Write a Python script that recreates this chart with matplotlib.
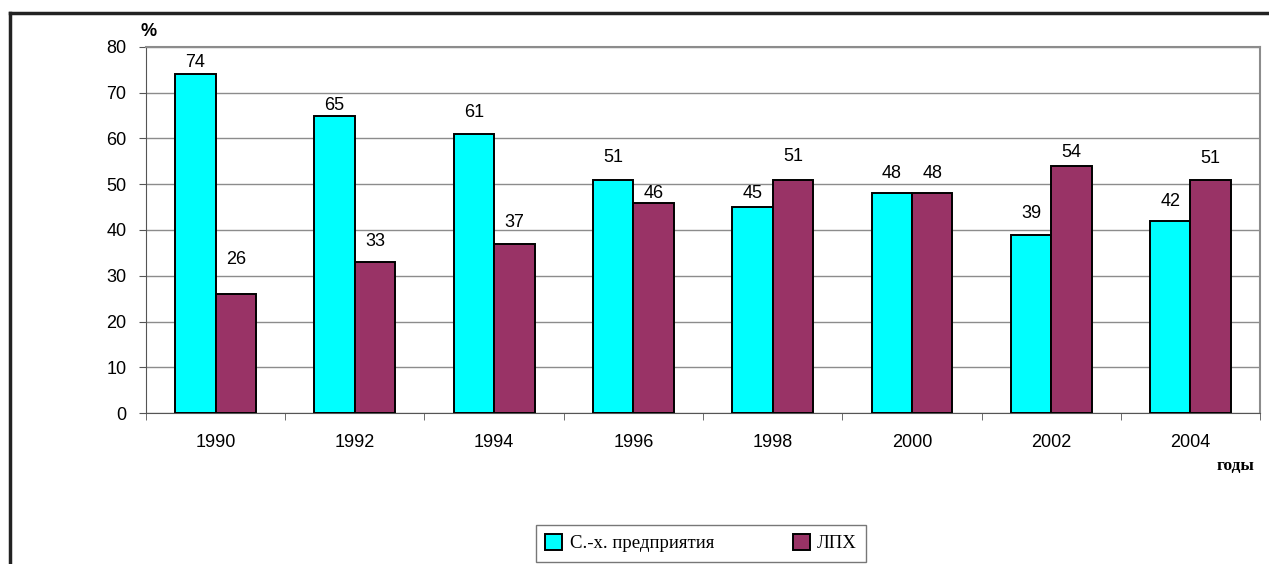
import matplotlib.pyplot as plt
import numpy as np
from matplotlib.lines import Line2D

# ── Data ────────────────────────────────────────────────────────────────────
years = ["1990", "1992", "1994", "1996", "1998", "2000", "2002", "2004"]
enterprises = [74, 65, 61, 51, 45, 48, 39, 42]   # С.-х. предприятия
households = [26, 33, 37, 46, 51, 48, 54, 51]    # ЛПХ

# label lift above bar top, in pixels (as placed in the original)
lift_ent = [12, 10, 21, 22, 14, 20, 21, 19]
lift_hh = [35, 21, 21, 9, 23, 20, 13, 21]

CYAN = "#00FFFF"
MAROON = "#993366"
GRID = "#8c8c8c"

plt.rcParams["font.family"] = ["Liberation Sans", "DejaVu Sans"]

fig = plt.figure(figsize=(12.69, 5.64), dpi=100)
ax = fig.add_axes([0.115, 0.2677, 0.878, 0.649])

x = np.arange(len(years))
w = 0.29
b1 = ax.bar(x - w / 2, enterprises, w, color=CYAN, edgecolor="black", linewidth=1.4, zorder=3)
b2 = ax.bar(x + w / 2, households, w, color=MAROON, edgecolor="black", linewidth=1.4, zorder=3)

px = 0.72  # points per pixel
for bars, vals, lifts in ((b1, enterprises, lift_ent), (b2, households, lift_hh)):
    for bar, v, d in zip(bars, vals, lifts):
        ax.annotate(str(v), (bar.get_x() + bar.get_width() / 2, v),
                    xytext=(0, d * px), textcoords="offset points",
                    ha="center", va="center", fontsize=13, zorder=4)

ax.set_xlim(-0.5, len(years) - 0.5)
ax.set_ylim(0, 80)
ax.set_yticks(range(0, 81, 10))
ax.tick_params(axis="y", labelsize=13, length=5, color="#555555", pad=9)

ax.set_xticks(x)
ax.set_xticklabels(years, fontsize=13)
ax.set_xticks(np.arange(-0.5, len(years)), minor=True)
ax.tick_params(axis="x", which="major", length=0, pad=15)
ax.tick_params(axis="x", which="minor", length=5, color="#555555")

ax.yaxis.grid(True, color=GRID, linewidth=1.0, zorder=0)
ax.set_axisbelow(True)
for side in ("top", "right"):
    ax.spines[side].set_color(GRID)
    ax.spines[side].set_linewidth(1.5)
ax.spines["left"].set_color("#555555")
ax.spines["bottom"].set_color("#555555")

fig.text(0.111, 0.945, "%", fontsize=13, fontweight="bold", ha="left", va="center")
fig.text(0.959, 0.174, "годы", fontsize=12.5, fontweight="bold",
         family=["Liberation Serif", "DejaVu Serif"], ha="left", va="center")

# outer chart border (only top and left visible in the crop)
fig.add_artist(Line2D([0.008, 1.0], [0.977, 0.977], transform=fig.transFigure,
                      color="#222222", linewidth=2.5))
fig.add_artist(Line2D([0.008, 0.008], [0.0, 0.977], transform=fig.transFigure,
                      color="#222222", linewidth=2.5))

leg = fig.legend([b1, b2], ["С.-х. предприятия", "ЛПХ"], ncol=2,
                 loc="center", bbox_to_anchor=(0.5524, 0.037),
                 prop={"family": ["Liberation Serif", "DejaVu Serif"], "size": 13.5},
                 frameon=True, fancybox=False, edgecolor="#555555",
                 handlelength=0.9, handleheight=0.9, handletextpad=0.4,
                 columnspacing=4.2, borderpad=0.5, borderaxespad=0.0)
leg.get_frame().set_linewidth(1.0)

fig.savefig("out.png", dpi=100)
